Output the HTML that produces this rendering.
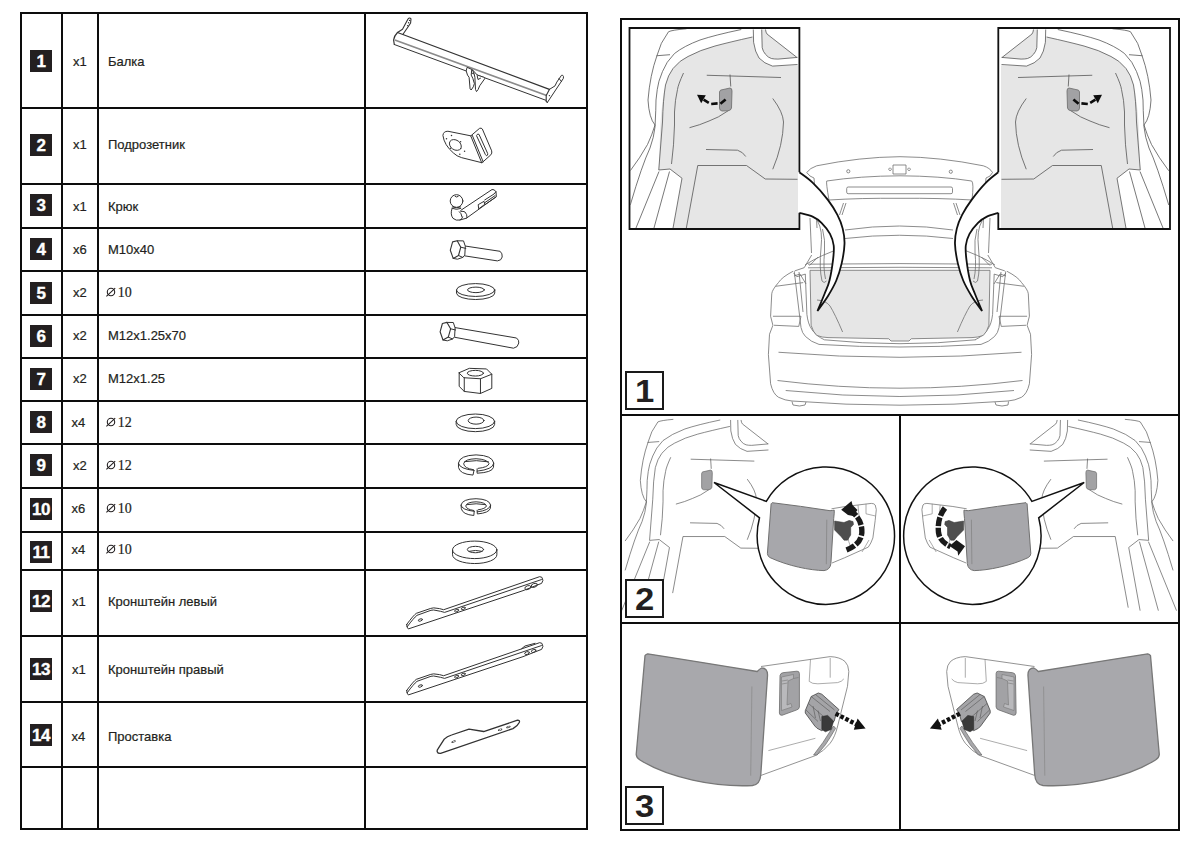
<!DOCTYPE html>
<html><head><meta charset="utf-8">
<style>
html,body{margin:0;padding:0;background:#fff;}
body{width:1200px;height:849px;position:relative;overflow:hidden;font-family:"Liberation Sans",sans-serif;color:#231f20;}
.h{position:absolute;left:20px;width:568px;height:2px;background:#0d0d0d;}
.v{position:absolute;top:12px;width:2px;height:818px;background:#0d0d0d;}
.nb{position:absolute;left:30px;width:22px;height:22px;background:#231f20;color:#fff;font-weight:bold;font-size:17px;line-height:23.6px;text-align:center;letter-spacing:-0.5px;-webkit-text-stroke:0.35px #fff;overflow:hidden;}
.q{position:absolute;left:73px;font-size:13px;line-height:16px;-webkit-text-stroke:0.2px #231f20;}
.t{position:absolute;left:108px;font-size:13px;line-height:16px;white-space:nowrap;-webkit-text-stroke:0.2px #231f20;}
.t.d{font-family:"Liberation Serif",serif;font-size:14px;left:106px;padding-left:11.7px;}
.t.d .o{position:absolute;left:0;top:2.3px;}
.rp{position:absolute;border:2px solid #0d0d0d;}
.bx{position:absolute;width:35px;height:35px;border:2px solid #1a1a1a;background:#fff;font-weight:bold;font-size:31.5px;line-height:36px;text-align:center;color:#231f20;}
.bx span{display:inline-block;transform:scaleX(1.1);}
svg{position:absolute;left:0;top:0;}
</style></head><body>
<div class="h" style="top:12px"></div>
<div class="h" style="top:107px"></div>
<div class="h" style="top:183px"></div>
<div class="h" style="top:227px"></div>
<div class="h" style="top:270px"></div>
<div class="h" style="top:314px"></div>
<div class="h" style="top:357px"></div>
<div class="h" style="top:400px"></div>
<div class="h" style="top:443px"></div>
<div class="h" style="top:487px"></div>
<div class="h" style="top:531px"></div>
<div class="h" style="top:569px"></div>
<div class="h" style="top:635px"></div>
<div class="h" style="top:701px"></div>
<div class="h" style="top:766px"></div>
<div class="h" style="top:828px"></div>
<div class="v" style="left:20px"></div>
<div class="v" style="left:61px"></div>
<div class="v" style="left:97px"></div>
<div class="v" style="left:364px"></div>
<div class="v" style="left:586px"></div>
<div class="nb" style="top:50px">1</div>
<div class="q" style="top:54px;left:73px">x1</div>
<div class="t" style="top:54px">Балка</div>
<div class="nb" style="top:134px">2</div>
<div class="q" style="top:137px;left:73px">x1</div>
<div class="t" style="top:137px">Подрозетник</div>
<div class="nb" style="top:194px">3</div>
<div class="q" style="top:199px;left:73px">x1</div>
<div class="t" style="top:199px">Крюк</div>
<div class="nb" style="top:238px">4</div>
<div class="q" style="top:242px;left:73px">x6</div>
<div class="t" style="top:242px">М10x40</div>
<div class="nb" style="top:282px">5</div>
<div class="q" style="top:285px;left:73px">x2</div>
<div class="t d" style="top:285px"><svg class="o" viewBox="0 0 10 10" width="10" height="10"><circle cx="5" cy="5" r="3.7" fill="none" stroke="#231f20" stroke-width="1.1"/><line x1="0.4" y1="9.4" x2="9.2" y2="1.2" stroke="#231f20" stroke-width="1.1"/></svg>10</div>
<div class="nb" style="top:325px">6</div>
<div class="q" style="top:328px;left:73px">x2</div>
<div class="t" style="top:328px">М12x1.25x70</div>
<div class="nb" style="top:368px">7</div>
<div class="q" style="top:371px;left:73px">x2</div>
<div class="t" style="top:371px">М12x1.25</div>
<div class="nb" style="top:411px">8</div>
<div class="q" style="top:415px;left:71.6px">x4</div>
<div class="t d" style="top:415px"><svg class="o" viewBox="0 0 10 10" width="10" height="10"><circle cx="5" cy="5" r="3.7" fill="none" stroke="#231f20" stroke-width="1.1"/><line x1="0.4" y1="9.4" x2="9.2" y2="1.2" stroke="#231f20" stroke-width="1.1"/></svg>12</div>
<div class="nb" style="top:454px">9</div>
<div class="q" style="top:458px;left:73px">x2</div>
<div class="t d" style="top:458px"><svg class="o" viewBox="0 0 10 10" width="10" height="10"><circle cx="5" cy="5" r="3.7" fill="none" stroke="#231f20" stroke-width="1.1"/><line x1="0.4" y1="9.4" x2="9.2" y2="1.2" stroke="#231f20" stroke-width="1.1"/></svg>12</div>
<div class="nb" style="top:498px">10</div>
<div class="q" style="top:501px;left:71.6px">x6</div>
<div class="t d" style="top:501px"><svg class="o" viewBox="0 0 10 10" width="10" height="10"><circle cx="5" cy="5" r="3.7" fill="none" stroke="#231f20" stroke-width="1.1"/><line x1="0.4" y1="9.4" x2="9.2" y2="1.2" stroke="#231f20" stroke-width="1.1"/></svg>10</div>
<div class="nb" style="top:541px">11</div>
<div class="q" style="top:542px;left:71.6px">x4</div>
<div class="t d" style="top:542px"><svg class="o" viewBox="0 0 10 10" width="10" height="10"><circle cx="5" cy="5" r="3.7" fill="none" stroke="#231f20" stroke-width="1.1"/><line x1="0.4" y1="9.4" x2="9.2" y2="1.2" stroke="#231f20" stroke-width="1.1"/></svg>10</div>
<div class="nb" style="top:590px">12</div>
<div class="q" style="top:594px;left:72px">x1</div>
<div class="t" style="top:594px">Кронштейн левый</div>
<div class="nb" style="top:658px">13</div>
<div class="q" style="top:662px;left:72px">x1</div>
<div class="t" style="top:662px">Кронштейн правый</div>
<div class="nb" style="top:724px">14</div>
<div class="q" style="top:729px;left:71.6px">x4</div>
<div class="t" style="top:729px">Проставка</div>
<!-- right panel -->
<div class="rp" style="left:620px;top:18px;width:1156px;height:808px;display:none"></div>
<div style="position:absolute;left:620px;top:18px;width:560px;height:2px;background:#0d0d0d"></div>
<div style="position:absolute;left:620px;top:829px;width:560px;height:2px;background:#0d0d0d"></div>
<div style="position:absolute;left:620px;top:18px;width:2px;height:813px;background:#0d0d0d"></div>
<div style="position:absolute;left:1178px;top:18px;width:2px;height:813px;background:#0d0d0d"></div>
<div style="position:absolute;left:620px;top:414px;width:560px;height:2px;background:#0d0d0d"></div>
<div style="position:absolute;left:620px;top:622px;width:560px;height:2px;background:#0d0d0d"></div>
<div style="position:absolute;left:899px;top:414px;width:2px;height:417px;background:#0d0d0d"></div>
<svg width="1200" height="849" viewBox="0 0 1200 849">
<g fill="none" stroke="#333" stroke-width="1" stroke-linejoin="round" stroke-linecap="round">
<!-- 1 beam -->
<path d="M397.5,32.5 L549.4,89.4" stroke-width="1.2"/>
<path d="M395.5,40.2 L546,95.3" stroke="#8a8a8a" stroke-width="1.7"/>
<path d="M394.3,44.5 L545.9,100.3"/>
<path d="M397.5,32.5 Q394,36 393.6,40 L394.3,44.5" stroke-width="1.2"/>
<path d="M397.5,32.5 L402.5,29.2 L408,19 Q409.6,17.2 411,18.8 L410.6,23 L408.5,26.2 L403,34.3" stroke-width="1.1"/>
<g fill="#333" stroke="none"><circle cx="409.6" cy="20.4" r="0.7"/><circle cx="408.6" cy="22.8" r="0.7"/><circle cx="407.6" cy="25.6" r="0.7"/><circle cx="549.4" cy="95.6" r="0.7"/><circle cx="480.8" cy="77.3" r="0.8"/><circle cx="471.8" cy="83.5" r="0.5"/><circle cx="478.5" cy="85.5" r="0.5"/></g>
<path d="M549.4,89.4 L546.2,95.6 L546.2,101.5 L547.4,102.4" stroke-width="1.1"/>
<path d="M549.4,89.4 L555,85.9 L556.8,82.1 L561.5,75.3 Q562.8,74.6 563.5,76.6 L563.3,78.5 L560.9,82.1 L547.4,102.4"/>
<path d="M559,78.5 L561.5,81.5"/>
<path fill="#fff" d="M467,67.7 L466.2,70.9 L467.5,75.1 L469.1,77.3 L470.1,88.9 L471.2,90 L473.3,86.8 L474.4,83.6 L472.8,78.3 L471.2,75.1 L471.7,69.8 Z"/>
<path fill="#fff" d="M472.3,69.8 L473.9,73 L474.9,77.3 L475.5,89.5 L476.5,91.6 L478.1,89.5 L479.7,85.8 L485,78.3 L483.9,77.3 L477.6,75.1 Z"/>
<path d="M477.2,75.6 L478,79.5 L480.5,78.2"/>
<!-- 2 bracket -->
<g transform="translate(420,110) scale(0.083333)">
<path vector-effect="non-scaling-stroke" d="M610,310 L335,255 Q280,255 275,305 Q290,420 400,515 Q440,555 500,572 L740,632"/>
<path vector-effect="non-scaling-stroke" d="M610,310 L715,220 Q735,212 748,228 L860,490 Q868,520 850,538 L745,632"/>
<path vector-effect="non-scaling-stroke" d="M612,318 L740,632 M628,305 L758,622"/>
<path vector-effect="non-scaling-stroke" d="M682,300 Q690,280 708,292 L812,522 Q816,548 800,548 Q790,546 784,534 L680,312 Z"/>
<ellipse vector-effect="non-scaling-stroke" cx="425" cy="420" rx="78" ry="58" transform="rotate(35 425 420)"/>
<g fill="#333" stroke="none"><circle cx="378" cy="305" r="9"/><circle cx="318" cy="345" r="9"/><circle cx="487" cy="382" r="9"/><circle cx="367" cy="458" r="9"/><circle cx="535" cy="495" r="9"/><circle cx="478" cy="530" r="9"/></g>
</g>
<!-- 3 hook -->
<g transform="translate(430,185) scale(0.066667)">
<circle vector-effect="non-scaling-stroke" cx="398" cy="240" r="95"/>
<path vector-effect="non-scaling-stroke" d="M375,170 Q400,195 425,170"/>
<path vector-effect="non-scaling-stroke" d="M335,330 Q400,355 460,330 M330,350 Q400,380 462,352"/>
<path vector-effect="non-scaling-stroke" d="M330,355 Q300,440 345,500 Q390,540 450,525 Q480,510 490,480"/>
<path vector-effect="non-scaling-stroke" d="M450,525 L555,495 Q560,440 525,405 Q500,390 462,395"/>
<path vector-effect="non-scaling-stroke" d="M462,380 L930,68 Q960,60 990,100 L995,175 L555,492"/>
<path vector-effect="non-scaling-stroke" d="M990,100 L960,135 L820,225"/>
<path vector-effect="non-scaling-stroke" d="M728,292 L810,245 L822,290 L735,355 Z M822,265 L975,160 M830,290 L990,180"/>
<path vector-effect="non-scaling-stroke" d="M480,475 Q470,420 440,400"/>
</g>
<!-- 4 bolt -->
<g id="bhead">
<path d="M450.3,250.2 L452.6,241.9 L457.2,240.8 L460.8,247.2 L458.5,255.5 L453.2,258.4 Z" stroke-width="1.1"/>
<path d="M457.2,240.8 L463.5,240.9 L465.3,246.2 L464.8,255.1 L462.8,257.4 L457.5,259.2 L453.2,258.4 M460.8,247.2 L465.8,248.4 M458.5,255.5 L462.8,257.4"/>
</g>
<path d="M465.6,246.1 L500.1,251.3 Q502.6,253.5 502.2,257 Q501.5,260.6 497.4,260.9 L464.9,255.9"/>
<!-- 5 washer -->
<g transform="translate(430,228) scale(0.15314)">
<ellipse vector-effect="non-scaling-stroke" cx="298" cy="405" rx="125" ry="42"/>
<path vector-effect="non-scaling-stroke" d="M173,405 L173,425 A125,42 0 0 0 423,425 L423,405"/>
<ellipse vector-effect="non-scaling-stroke" cx="300" cy="404" rx="55" ry="18"/>
</g>
<!-- 6 bolt long -->
<use href="#bhead" transform="translate(-10.2,81.6)"/>
<path d="M455.2,327.6 L516.5,338 Q519.2,340 518.8,343 Q518,347.5 513.5,348.2 L454.8,337.3"/>
<!-- 7 nut -->
<g transform="translate(445,358) scale(0.101317)">
<path vector-effect="non-scaling-stroke" d="M140,145 L240,102 L410,108 L462,160 L350,205 L190,195 Z"/>
<path vector-effect="non-scaling-stroke" d="M140,145 L140,280 L190,330 L350,350 L462,300 L462,160 M190,195 L190,330 M350,205 L350,350"/>
<ellipse vector-effect="non-scaling-stroke" cx="300" cy="150" rx="80" ry="28"/>
</g>
<!-- 8 washer -->
<g transform="translate(445,358) scale(0.101317)">
<ellipse vector-effect="non-scaling-stroke" cx="300" cy="625" rx="190" ry="72"/>
<path vector-effect="non-scaling-stroke" d="M110,625 L110,655 A190,72 0 0 0 490,655 L490,625"/>
<ellipse vector-effect="non-scaling-stroke" cx="307" cy="618" rx="78" ry="35"/>
</g>
<!-- 9 spring washer -->
<g transform="translate(445,444) scale(0.103627)">
<path vector-effect="non-scaling-stroke" d="M280,255 Q140,240 130,185 Q140,110 300,105 Q460,110 470,185 Q465,245 310,262"/>
<path vector-effect="non-scaling-stroke" d="M130,185 L130,225 Q140,290 270,300 L280,255 M470,185 L468,225 Q455,275 310,282 L310,240"/>
<path vector-effect="non-scaling-stroke" d="M275,248 Q185,235 180,190 Q190,145 300,142 Q410,148 425,190 Q415,225 320,235"/>
<path vector-effect="non-scaling-stroke" d="M190,170 Q300,150 420,172"/>
</g>
<!-- 10 spring washer small -->
<g transform="translate(445,444) scale(0.103627)">
<path vector-effect="non-scaling-stroke" d="M282,650 Q160,635 155,590 Q165,530 300,528 Q430,532 440,590 Q430,640 312,655"/>
<path vector-effect="non-scaling-stroke" d="M155,590 L158,625 Q170,680 278,690 L282,650 M440,590 L438,620 Q425,665 312,675 L310,640"/>
<path vector-effect="non-scaling-stroke" d="M278,642 Q205,630 200,598 Q210,560 300,558 Q390,562 400,598 Q392,625 320,635"/>
<path vector-effect="non-scaling-stroke" d="M210,585 Q300,568 392,585"/>
</g>
<!-- 11 washer big -->
<g transform="translate(440,530) scale(0.058333)">
<ellipse vector-effect="non-scaling-stroke" cx="595" cy="340" rx="380" ry="150"/>
<path vector-effect="non-scaling-stroke" d="M215,345 L215,425 A380,150 0 0 0 975,425 L975,345"/>
<ellipse vector-effect="non-scaling-stroke" cx="608" cy="335" rx="140" ry="55"/>
<path vector-effect="non-scaling-stroke" d="M500,365 Q608,335 720,365"/>
</g>
<!-- 12 bracket -->
<g transform="translate(395,570) scale(0.13333)">
<path vector-effect="non-scaling-stroke" d="M88,408 Q85,430 100,442 L960,155 L1100,100 Q1118,78 1102,55 L1085,50 L365,298 Q340,288 290,284 L268,288 L160,325 Q140,338 88,408 Z"/>
<path vector-effect="non-scaling-stroke" d="M1098,72 L372,318 Q350,310 290,300 L270,302 L165,340 Q140,360 92,425"/>
<g><ellipse vector-effect="non-scaling-stroke" cx="190" cy="375" rx="16" ry="8" transform="rotate(-20 190 375)"/><ellipse vector-effect="non-scaling-stroke" cx="462" cy="305" rx="16" ry="8" transform="rotate(-20 462 305)"/><ellipse vector-effect="non-scaling-stroke" cx="512" cy="288" rx="16" ry="8" transform="rotate(-20 512 288)"/><ellipse vector-effect="non-scaling-stroke" cx="997" cy="132" rx="24" ry="14" transform="rotate(-20 997 132)"/><ellipse vector-effect="non-scaling-stroke" cx="1045" cy="115" rx="24" ry="14" transform="rotate(-20 1045 115)"/></g>
</g>
<!-- 13 bracket -->
<g transform="translate(395,636) scale(0.13333)">
<path vector-effect="non-scaling-stroke" d="M88,408 Q85,430 100,442 L960,155 L1100,100 Q1118,78 1102,55 L1085,50 L365,298 Q340,288 290,284 L268,288 L160,325 Q140,338 88,408 Z"/>
<path vector-effect="non-scaling-stroke" d="M1098,72 L372,318 Q350,310 290,300 L270,302 L165,340 Q140,360 92,425"/>
<path vector-effect="non-scaling-stroke" d="M950,95 L975,75 L1050,55"/>
<g><ellipse vector-effect="non-scaling-stroke" cx="190" cy="375" rx="16" ry="8" transform="rotate(-20 190 375)"/><ellipse vector-effect="non-scaling-stroke" cx="462" cy="305" rx="16" ry="8" transform="rotate(-20 462 305)"/><ellipse vector-effect="non-scaling-stroke" cx="512" cy="288" rx="16" ry="8" transform="rotate(-20 512 288)"/><ellipse vector-effect="non-scaling-stroke" cx="990" cy="128" rx="18" ry="10" transform="rotate(-20 990 128)"/><ellipse vector-effect="non-scaling-stroke" cx="1040" cy="112" rx="18" ry="10" transform="rotate(-20 1040 112)"/></g>
</g>
<!-- 14 spacer -->
<g transform="translate(425,702) scale(0.091667)">
<path vector-effect="non-scaling-stroke" stroke-width="1.3" d="M135,545 Q128,530 140,515 L210,405 Q240,375 290,360 L480,297 L640,322 L1010,198 Q1035,198 1030,220 Q1010,262 960,290 L170,560 Q140,562 135,545 Z"/>
<g fill="#333" stroke="none"><ellipse cx="312" cy="432" rx="25" ry="11" transform="rotate(-20 312 432)"/><ellipse cx="820" cy="303" rx="25" ry="11" transform="rotate(-20 820 303)"/><ellipse cx="910" cy="272" rx="25" ry="11" transform="rotate(-20 910 272)"/></g>
<g fill="#fff" stroke="none"><ellipse cx="312" cy="432" rx="14" ry="5" transform="rotate(-20 312 432)"/><ellipse cx="820" cy="303" rx="14" ry="5" transform="rotate(-20 820 303)"/><ellipse cx="910" cy="272" rx="14" ry="5" transform="rotate(-20 910 272)"/></g>
</g>
</g>

<!--SEC1-->
<defs>
<clipPath id="cL"><rect x="630.4" y="28.9" width="168.1" height="199.2"/></clipPath>
<clipPath id="cR"><rect x="999.2" y="28.9" width="169.9" height="199.2"/></clipPath>
<clipPath id="c2L"><rect x="622" y="416" width="277" height="206"/></clipPath>
<clipPath id="c2R"><rect x="901" y="416" width="277" height="206"/></clipPath>
<g id="inFill">
<!-- gray interior -->
<path fill="#e6e6e6" stroke="none" d="M753.5,37 L753.6,42.3 Q755,52 759,58 Q764,63.5 772.5,66.1 L798,65.3 L798,228 L673,228 L682,178.25 L670,169 L658.75,170 L660.5,122 Q662,100 665.5,85 Q668,75 673,68.5 Q680,60 688,56.5 Q700,50 715,46 Z"/>
<path fill="#e6e6e6" stroke="none" d="M761.7,29.5 L765.5,29.5 Q765.8,32.5 767.1,34.1 L796.9,57.4 L777.9,59.1 Q774,59 771.4,58.5 Q767,56.5 765.4,54.2 Q762.5,50 762.2,47.7 Z"/>
</g>
<g id="inLines" fill="none" stroke="#555" stroke-width="0.8" stroke-linejoin="round">
<path d="M765.5,29.5 Q765.8,32.5 767.1,34.1 L796.9,57.4"/>
<!-- outer curves -->
<path d="M686.5,28.75 Q672,30 668.5,31.75 Q660,43 657,55.5 Q650,75 648,100 Q649,118 655,125 Q652,135 647.5,144.5 Q640,158 630.25,170.75"/>
<path d="M656.5,55.75 L670,54.7"/>
<path d="M741.25,29.5 Q715,35 700,40 Q684,46 674.5,53.5 Q666,62 662.5,71.5 Q658,82 657.25,89.5 Q655.5,100 655.75,110.5 L655,127 Q654,137 650,148 Q642,165 630.25,205"/>
<path d="M752.5,37 Q730,42 715,46 Q700,50 688,56.5 Q680,60 673,68.5 Q668,75 665.5,85 Q663,100 662.5,122 L658.75,170 L670,169 L682,178.25 L668.7,252"/>
<path d="M669.5,171.5 L647.4,252 M659,171.5 L626.2,252"/>
<path d="M683.5,73 Q678,85 677.5,89.5 Q675,100 674.5,112 L674.5,125 Q674,145 671.5,164"/>
<path d="M685.7,231.5 L697.75,165.5 L746.5,165.5 L765.25,179 L797.5,179.3"/>
<path d="M706,149.5 L737.5,150.2 Q743,152 745.75,156.5"/>
<path d="M772.75,98.5 Q783,112 783.5,122 Q783,145 772.75,169.25"/>
<path d="M728.5,110.5 Q718,118 709,121 Q700,125 689.5,127.7"/>
<path d="M706.75,75.25 L781,77.5 M730,74.5 L730.75,86.5"/>
<path d="M753.3,29.5 L753.6,42.3 Q755,52 759,58 Q764,63.5 772.5,66.1 L797.5,64.5"/>
<path d="M761.7,29.5 L762.2,47.7 Q763,51.5 765.4,54.2 Q768,57.5 771.4,58.5 Q774,59.1 777.9,59.1 L797.5,57.4"/>
<!-- flap -->
<path fill="#a2a2a4" stroke="#6a6a6a" d="M721,90 L730,88 Q732,88 732,91 L731.5,108 Q731,110.5 728,110.8 L722,111 Q719.5,110.5 719.5,108 L719.5,92 Q719.8,90.3 721,90 Z"/>
</g>
<g id="inArrow" fill="none">
<!-- arrow -->
<path stroke="#0d0d0d" stroke-width="2.6" d="M720.4,103.8 L725.6,99.4 M711.2,104 L717.6,103.4 M703.6,99.6 L708.8,102.9"/>
<path fill="#0d0d0d" stroke="none" d="M697,94.7 L705.8,95.2 L701.2,103.2 Z"/>
</g>
</defs>
<g clip-path="url(#cL)"><use href="#inFill"/><use href="#inLines"/><use href="#inArrow"/></g>
<g clip-path="url(#cR)"><g transform="matrix(-1,0,0,1,1799,0)"><use href="#inFill"/><use href="#inLines"/><use href="#inArrow"/></g></g>
<!-- inset borders -->
<path fill="none" stroke="#111" stroke-width="1.8" d="M799.4,172.3 L799.4,28 L629.5,28 L629.5,229 L799.4,229 L799.4,212.8"/>
<path fill="none" stroke="#111" stroke-width="1.8" d="M998.3,172.3 L998.3,28 L1170,28 L1170,229 L998.3,229 L998.3,212.8"/>

<!-- CAR -->
<g fill="none" stroke="#6e6e6e" stroke-width="0.8" stroke-linejoin="round">
<!-- body outline -->
<path fill="#fff" d="M793.1,271.25 Q782,277 778.5,282.5 Q772,290 771.75,293.75 L770.6,316.25 L772.9,325.25 L769.5,334.25 L768.4,354.5 L770.6,383.75 Q773,394 778.5,397.25 Q785,400.5 792,401 Q900,409.4 1008,401 Q1015,400.5 1021.5,397.25 Q1027,394 1029.4,383.75 L1031.6,354.5 L1030.5,334.25 L1027.1,325.25 L1029.4,316.25 L1028.3,293.75 Q1028,290 1021.5,282.5 Q1018,277 1006.9,271.25"/>
<!-- tires -->
<path d="M792,401.5 L793,405 Q800,407 805,405 L806,402 M995,402 L996,405 Q1002,407 1008,405 L1008.5,401.5"/>
<!-- tail lights -->
<path d="M772.9,316.25 L801,316.25 L798.75,326.4 L774,325.25 M1027.1,316.25 L999,316.25 L1001.25,326.4 L1026,325.25"/>
<g id="carx"><path d="M775.6,286.3 L803.2,282.6 M805.3,274 L806.9,314.4 Q808,324 811.7,329.2 Q816,336 824.4,339.8 M794.7,270.9 L804.2,267.7 L811.7,255 M809.5,265.6 L818,257.1 M793.6,273 L796.8,276.7 L805.3,274.1"/></g>
<use href="#carx" transform="matrix(-1,0,0,1,1799.5,0)"/>
<!-- bumper lines -->
<path d="M778.5,352.25 Q900,362.35 1021.5,352.25 M777.5,380.5 Q900,395.9 1022.5,380.5 M785.7,390.5 Q900,402.5 1014,390.5 M824.4,339.8 Q900,347.6 975.6,339.8"/>
<!-- trunk outer opening -->
<path d="M794.25,271.25 L801,327.5 Q802,333 805.5,336.5 Q811,342 819,344.4 Q900,349.6 981,344.4 Q989,342 994.5,336.5 Q998,333 999,327.5 L1005.75,271.25"/>
<path d="M799,272 L803,312 M1001,272 L997,312 M794,276 L800,274 L806,284 M1006,276 L1000,274 L994,284"/>
<!-- trunk gray -->
<path fill="#e6e6e6" d="M810,270.3 L990,270.3 L988.9,325.25 Q987,332 983.3,335.4 Q978,337.5 972,337.6 L911.25,338.75 L909,341 L891,341 L888.75,338.75 L828,337.6 Q822,337.5 816.75,335.4 Q813,332 811.1,325.25 Z"/>
<path d="M817,300 Q826,300.5 830,306 Q835,314 842.6,332 M983,300 Q974,300.5 970,306 Q965,314 957.4,332"/>
<!-- trunk lip lines -->
<path d="M808,264.2 Q900,263 992,264.2 M808,267.8 Q900,266.8 992,267.8"/>
<!-- lid -->
<path fill="#fff" d="M806.7,172.5 Q810,168 816.7,165.8 Q860,157 900,156.7 Q940,157 983.3,165.8 Q990,168 992.5,172.5 L990,176 L986,178 L985,190 L983,228 M817,228 L815,190 L814,178 L810,176 L806.7,172.5"/>
<path d="M826.7,181 Q860,176 900,175.8 Q940,176 971.7,181 Q974,183 972,200 Q940,198 900,198.3 Q860,198 829,200 Q826,183 826.7,181 Z"/>
<rect x="846.7" y="187" width="105.8" height="6.7" rx="1.5"/>
<path d="M893,165 L893,174 L906,174 L906,165 Z M890,168 a1.3,1.3 0 1 0 0.1,0 M909,168 a1.3,1.3 0 1 0 0.1,0"/>
<circle cx="848.3" cy="171.3" r="1.6"/><circle cx="950.8" cy="171.7" r="1.6"/>
<!-- roof / window arcs -->
<path d="M845,230 Q900,222 953,230 M845,238.5 Q900,232 953,238.5"/>
<path d="M810,218 L811.5,253 M990,218 L988.5,253"/>
<path d="M843.5,203 L839.5,215 M846,203 L842,215 M956,203 L960,215 M953.5,203 L957.5,215"/><path d="M817.5,221 Q823,230 821,248 Q819,268 822,281 Q824,284 826.5,281 M822.5,229 Q825.5,240 824.5,252 Q823,268 825.5,279 M982,221 Q976.5,230 978.5,248 Q980.5,268 977.5,281 Q975.5,284 973,281 M977,229 Q974,240 975,252 Q976.5,268 974,279"/>
<path d="M805,265 Q820,255 845,247 M995,265 Q980,255 955,247"/>
</g>

<!-- wedges -->
<g fill="#fff" stroke="#111" stroke-width="1.8" stroke-linejoin="miter">
<path d="M799.4,172.3 C801.6,174.0 807.9,178.1 812.6,182.6 C817.3,187.1 823.6,194.2 827.7,199.6 C831.8,205.0 834.9,210.0 837.4,214.8 C839.9,219.6 841.5,223.7 842.7,228.6 C843.9,233.5 844.7,238.2 844.5,244.0 C844.3,249.8 843.0,257.5 841.6,263.6 C840.2,269.7 838.6,275.1 836.3,280.5 C834.0,285.9 831.1,290.9 828.0,296.0 C824.9,301.1 819.2,308.5 817.4,311.0 L817.4,311.0 C818.6,308.2 822.5,299.1 824.5,294.0 C826.5,288.9 828.1,286.3 829.5,280.5 C830.9,274.7 832.4,265.1 833.1,259.3 C833.8,253.5 834.2,249.7 833.7,245.5 C833.2,241.3 832.0,237.7 830.0,233.9 C828.0,230.1 824.4,225.7 821.5,222.8 C818.6,219.9 816.3,218.3 812.6,216.6 C808.9,214.9 801.6,213.4 799.4,212.8"/>
<path d="M998.3,172.3 C996.2,174.0 990.4,178.1 986.0,182.6 C981.6,187.1 975.8,194.2 971.8,199.6 C967.8,205.0 964.6,210.0 962.1,214.8 C959.6,219.6 958.0,223.7 956.8,228.6 C955.6,233.5 954.8,238.2 955.0,244.0 C955.2,249.8 956.5,257.5 957.9,263.6 C959.3,269.7 960.9,275.1 963.2,280.5 C965.5,285.9 968.4,290.9 971.5,296.0 C974.6,301.1 980.3,308.5 982.1,311.0 L982.1,311.0 C980.9,308.2 977.0,299.1 975.0,294.0 C973.0,288.9 971.4,286.3 970.0,280.5 C968.6,274.7 967.1,265.1 966.4,259.3 C965.7,253.5 965.3,249.7 965.8,245.5 C966.3,241.3 967.5,237.7 969.5,233.9 C971.5,230.1 975.1,225.7 978.0,222.8 C980.9,219.9 983.5,218.3 986.9,216.6 C990.3,214.9 996.4,213.4 998.3,212.8"/>
</g>

<!--/SEC1-->
<!--SEC23-->
<!-- section 2 left background drawing -->
<g clip-path="url(#c2L)"><g transform="translate(85,394.7) scale(0.857)"><use href="#inLines"/></g></g>
<g clip-path="url(#c2R)"><g transform="matrix(-1,0,0,1,1798.2,0)"><g transform="translate(85,394.7) scale(0.857)"><use href="#inLines"/><path d="M685.7,231.5 L682.6,248.5" fill="none" stroke="#555" stroke-width="0.8"/></g></g></g>
<defs>
<g id="mag">
<path fill="#fff" stroke="#111" stroke-width="1.5" stroke-linejoin="miter" d="M714,482.5 L766.3,501.4 A68.7,68.7 0 1 1 759.5,517.8 Z"/>
<path fill="#fff" stroke="#777" stroke-width="0.8" d="M831.5,508.8 L845.3,506.5 L871.3,503.4 Q874.5,503.5 875.2,505 L876.3,509.5 L875.2,520.3 L872.9,537.9 Q871,543.5 868.3,547.1 L844.5,557.8 L832,563"/>
<path fill="none" stroke="#888" stroke-width="0.7" d="M866,503.8 L866,513.8 L875.5,516 M858,505 L859,516 M869,540 L862,552 M850,520 Q845,535 851,548"/>
<path fill="#a7a7ab" stroke="#707070" stroke-width="1" stroke-linejoin="round" d="M772.2,502.7 Q800,506 830,510.7 Q833,510.5 834.2,510.1 Q834.5,512 833.7,518.6 L830.9,563.5 Q830.2,569.8 824,570.6 C810,570.3 788,566 770,557.6 Q767.3,556 767.4,553.5 L771.1,503.8 Z"/>
<path fill="none" stroke="#808080" stroke-width="0.7" d="M826.8,519.7 L826.3,564.2"/>
<path fill="#4e4e4e" stroke="#333" stroke-width="0.5" d="M834.6,521 L844,522.5 L849,520.5 L853,521.5 L853.5,524.5 L850.7,527.5 L850.7,535 L847.5,540.2 L844,540.2 L841,536.5 L834.6,530 Z"/>
</g>
</defs>
<use href="#mag"/>
<use href="#mag" transform="matrix(-1,0,0,1,1798.2,0)"/>
<!-- sec2 arrows -->
<g fill="none" stroke="#1a1a1a" stroke-width="5.4" stroke-dasharray="9,1.7">
<path d="M846.5,550 Q863,543.5 861.8,529.5 Q861,519.5 853.5,513"/>
<path d="M945,508 Q937,518 938.5,532.5 Q940,542 950.5,546.5"/>
</g>
<path fill="#1a1a1a" d="M841.2,509.8 L851.5,501 L852.5,505 L857.5,510 L853,516 L848,515 Z"/>
<path fill="#1a1a1a" d="M949.5,546 L956.5,540 L965,546.2 L958.2,555.8 L957.6,551.5 Z"/>

<!-- section 3 left -->
<defs>
<g id="s3">
<path fill="#fff" stroke="#777" stroke-width="0.8" stroke-linejoin="round" d="M761,666.5 L830.2,656.6 Q840,657 845.1,661.6 Q848.5,665 848.8,671.5 L847.5,686.3 L837.7,725.9 Q835,737 830.2,743.2 Q824,751 815.4,755.6 L761,775.4"/>
<path fill="none" stroke="#888" stroke-width="0.7" d="M810.5,659.1 L809.2,681.4 Q812,684 817.9,683.8 L837.7,682.6 Q842,681.5 843.8,678.9 M830.2,657.9 L830.2,677.7 M768.4,750.6 L815.4,738.3"/>
<path fill="#a2a2a5" stroke="#6a6a6a" stroke-width="0.8" stroke-linejoin="round" d="M780,675.5 Q780.5,673 783,672.7 L797,671.2 Q799.4,671.2 799.4,673.5 L799.4,707 Q799,709.5 796.5,710 L782,715.3 Q779.4,715.5 779.4,713 Z"/>
<path fill="#b9b9bc" stroke="#777" stroke-width="0.6" stroke-linejoin="round" d="M781.5,677 L793.5,674.5 L793.5,678.5 L788,681 L787,705 L791,703.5 L792,707 L781.5,710.5 Z"/>
<path fill="none" stroke="#777" stroke-width="0.6" d="M782,681 L788,680 M782,684 L787.5,683 M793.5,678.5 L798.5,677.5"/>
<path fill="#a8a8ab" stroke="#666" stroke-width="0.7" d="M833.6,726 Q827,736 823,742.4 Q818,749 813.6,755 L817.1,755 Q821,750 825.4,744.8 Q830,738 835.6,728.3 Z"/>
<path fill="#a4a4a7" stroke="#444" stroke-width="0.8" stroke-linejoin="round" d="M805.3,710.6 L811.2,696.5 L818.3,693 L821.8,694.2 L838.9,709.5 L836,714.2 L834.2,721.2 L821.8,730.7 L817.1,728.3 L814.8,726 L805.3,713 Z"/>
<path fill="none" stroke="#555" stroke-width="0.6" d="M811.2,696.5 L830,711.5 M815.5,694.5 L834.5,710 M808.5,703.5 L823.5,716.5 M806,710 L818,721.5 M813,706 L815.5,718 M818,710.5 L820.5,721"/>
<path fill="#3a3a3a" stroke="#222" stroke-width="0.5" d="M821.8,716.5 L827.7,715.4 L833.6,721.2 L831.2,729.5 L825.4,731.8 L821.8,729.5 Z"/>
<g fill="none" stroke="#111" stroke-width="4.4" stroke-dasharray="3.6,1.9"><path d="M835.6,713.6 L856.5,724.4"/></g>
<path fill="#111" d="M865.6,728.6 L857.6,718.6 L853.8,729.8 Z"/>
<path fill="#a8a8ac" stroke="#777" stroke-width="1.3" stroke-linejoin="round" d="M647.7,653.8 Q700,662 757.2,671.5 Q759.5,669 761.6,668 Q764.5,668 766,669.7 Q767.8,672 767.5,675.9 L760.8,774.5 Q760.2,784.5 752.5,785.5 C715,787.5 668,777.5 640,760 Q636.5,758 636.2,754.5 L645,655.6 Q646,654 647.7,653.8 Z"/>
<path fill="none" stroke="#888" stroke-width="0.7" d="M751.9,686.5 L750.7,775.7"/>
</g>
</defs>
<use href="#s3"/>
<use href="#s3" transform="matrix(-1,0,0,1,1795.5,0)"/>
<!--/SEC23-->

</svg>
<div class="bx" style="left:625px;top:371px"><span>1</span></div>
<div class="bx" style="left:625px;top:579px"><span>2</span></div>
<div class="bx" style="left:625px;top:786px"><span>3</span></div>
</body></html>
